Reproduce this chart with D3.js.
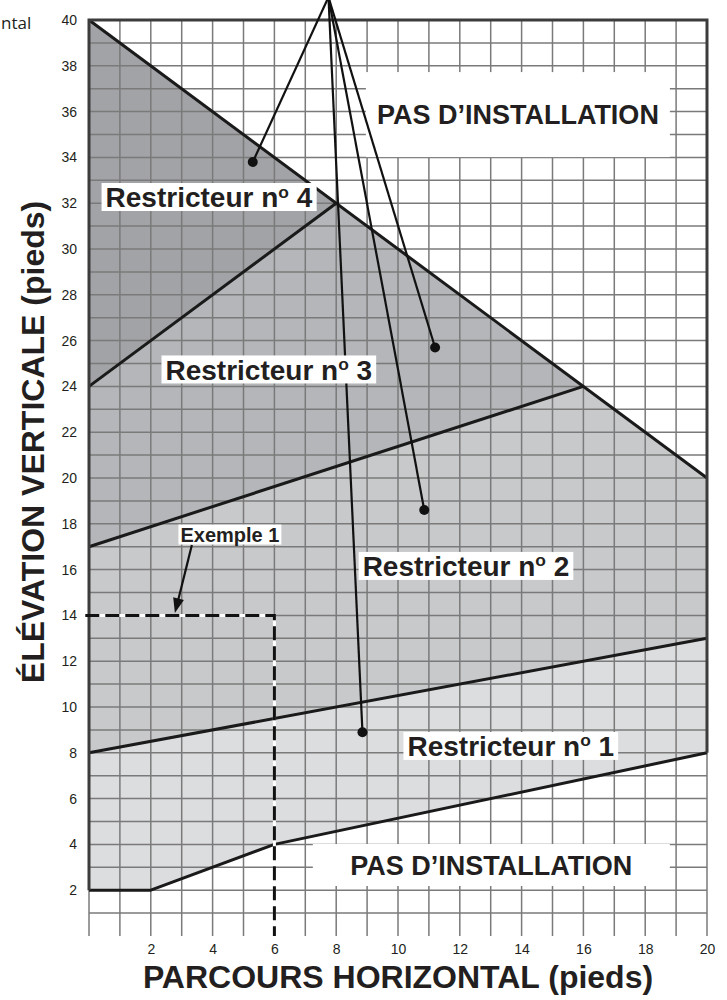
<!DOCTYPE html>
<html>
<head>
<meta charset="utf-8">
<script src="https://cdn.jsdelivr.net/npm/d3@7"></script>
<style>
  body { margin: 0; background: #fff; }
  svg { display: block; }
</style>
</head>
<body>
<svg width="727" height="1000"></svg>
<script>
// values (feet)
const xTicks = [2, 4, 6, 8, 10, 12, 14, 16, 18, 20];
const yTicks = [2, 4, 6, 8, 10, 12, 14, 16, 18, 20, 22, 24, 26, 28, 30, 32, 34, 36, 38, 40];

const zone4 = [[0, 40], [8, 32], [0, 24]];
const zone3 = [[0, 24], [8, 32], [16, 24], [0, 17]];
const zone2 = [[0, 17], [16, 24], [20, 20], [20, 13], [0, 8]];
const zone1 = [[0, 8], [20, 13], [20, 8], [6, 4], [2, 2], [0, 2]];

const limitTop = [[0, 40], [20, 20]];
const limit4 = [[0, 24], [8, 32]];
const limit3 = [[0, 17], [16, 24]];
const limit2 = [[0, 8], [20, 13]];
const limit1 = [[0, 2], [2, 2], [6, 4], [20, 8]];

const exampleRun = 6, exampleRise = 14;

const leaderApex = [7.75, 41];
const leaderDots = [[5.3, 33.8], [11.2, 25.7], [10.85, 18.6], [8.85, 8.9]];

const zoneNames = ["Restricteur n", "Restricteur n", "Restricteur n", "Restricteur n"];
const zoneNums = ["4", "3", "2", "1"];

let svg = d3.select("svg");

let x = d3.scaleLinear().domain([0, 20]).range([89, 707]);
let y = d3.scaleLinear().domain([0, 40]).range([936, 20]);

let line = d3.line().x(d => x(d[0])).y(d => y(d[1]));
const font = "Liberation Sans, Arial, sans-serif";

// shaded zones
let fills = ["#a2a3a6", "#b4b6b9", "#c8c9cb", "#dcdddf"];
[zone4, zone3, zone2, zone1].forEach((z, i) => {
  svg.append("path").attr("d", line(z) + "Z").attr("fill", fills[i]);
});

// grid, one line every foot
let grid = svg.append("g").attr("stroke", "#7a7a7a").attr("stroke-width", 1.5);
d3.range(0, 21).forEach(v => {
  grid.append("line")
    .attr("x1", x(v)).attr("x2", x(v))
    .attr("y1", y(40)).attr("y2", y(0));
});
d3.range(1, 41).forEach(v => {
  grid.append("line")
    .attr("x1", x(0)).attr("x2", x(20))
    .attr("y1", y(v)).attr("y2", y(v));
});

// white blocks for the "no install" labels
function block(cx, cy, w, h) {
  svg.append("rect")
    .attr("x", x(cx) - w / 2).attr("y", y(cy) - h / 2)
    .attr("width", w).attr("height", h)
    .attr("fill", "#fff");
}
block(13.88, 35.87, 304, 85);
block(13.02, 3.1, 357, 42);

// zone limits
[limitTop, limit4, limit3, limit2, limit1].forEach(l => {
  svg.append("path").attr("d", line(l))
    .attr("fill", "none").attr("stroke", "#1a1a1a")
    .attr("stroke-width", 3).attr("stroke-linejoin", "round");
});

// frame
svg.append("path").attr("d", line([[0, 2], [0, 40], [20, 40], [20, 8]]))
  .attr("stroke", "#3c3c3c").attr("stroke-width", 3).attr("fill", "none");

// exemple 1
let ex = [[-0.12, exampleRise], [exampleRun, exampleRise], [exampleRun, 0]];
svg.append("path").attr("d", line(ex))
  .attr("fill", "none").attr("stroke", "#fff").attr("stroke-width", 3);
svg.append("path").attr("d", line(ex))
  .attr("fill", "none").attr("stroke", "#111").attr("stroke-width", 3)
  .attr("stroke-dasharray", "14,6");

// leader lines
let leaders = svg.append("g");
leaderDots.forEach(d => {
  leaders.append("line")
    .attr("x1", x(leaderApex[0])).attr("y1", y(leaderApex[1]))
    .attr("x2", x(d[0])).attr("y2", y(d[1]))
    .attr("stroke", "#111").attr("stroke-width", 2.2);
  leaders.append("circle")
    .attr("cx", x(d[0])).attr("cy", y(d[1])).attr("r", 5)
    .attr("fill", "#111");
});

// labels on white
function label(txt, num, cx, cy, size) {
  let g = svg.append("g");
  let t = g.append("text")
    .attr("x", x(cx)).attr("y", y(cy))
    .attr("text-anchor", "middle").attr("dy", "0.36em")
    .attr("font-family", font)
    .attr("font-weight", "bold").attr("font-size", size)
    .attr("fill", "#231f20");
  t.append("tspan").text(txt);
  t.append("tspan").text("o").attr("font-size", size * 0.62).attr("dy", "-0.55em");
  t.append("tspan").text(" " + num).attr("dy", (size * 0.62 * 0.55) + "px");
  let b = t.node().getBBox();
  g.insert("rect", "text")
    .attr("x", b.x - 4).attr("y", y(cy) - 14)
    .attr("width", b.width + 8).attr("height", 28)
    .attr("fill", "#fff");
}
let spots = [[3.88, 32.27], [5.82, 24.74], [12.2, 16.16], [13.65, 8.3]];
zoneNames.forEach((n, i) => label(n, zoneNums[i], spots[i][0], spots[i][1], 28));

function plainLabel(txt, cx, cy, size) {
  svg.append("text")
    .attr("x", x(cx)).attr("y", y(cy))
    .attr("text-anchor", "middle").attr("dy", "0.36em")
    .attr("font-family", font)
    .attr("font-weight", "bold").attr("font-size", size)
    .attr("fill", "#231f20")
    .text(txt);
}
plainLabel("PAS D\u2019INSTALLATION", 13.88, 35.87, 27);
plainLabel("PAS D\u2019INSTALLATION", 13.02, 3.1, 27);

// exemple 1 label and arrow
let exLab = svg.append("g");
let exT = exLab.append("text")
  .attr("x", x(4.56)).attr("y", y(17.53))
  .attr("text-anchor", "middle").attr("dy", "0.36em")
  .attr("font-family", font)
  .attr("font-weight", "bold").attr("font-size", 20)
  .attr("fill", "#231f20").text("Exemple 1");
let eb = exT.node().getBBox();
exLab.insert("rect", "text")
  .attr("x", eb.x - 2).attr("y", y(17.53) - 10)
  .attr("width", eb.width + 4).attr("height", 20).attr("fill", "#fff");

let a0 = [x(3.33), y(17.07)], a1 = [x(2.78), y(14.1)];
let ang = Math.atan2(a1[1] - a0[1], a1[0] - a0[0]);
svg.append("line")
  .attr("x1", a0[0]).attr("y1", a0[1])
  .attr("x2", a1[0] - 12 * Math.cos(ang)).attr("y2", a1[1] - 12 * Math.sin(ang))
  .attr("stroke", "#111").attr("stroke-width", 2.2);
let hl = 15, hw = 5.5;
let bx = a1[0] - hl * Math.cos(ang), by = a1[1] - hl * Math.sin(ang);
svg.append("path")
  .attr("d", `M${a1[0]},${a1[1]}L${bx + hw * Math.sin(ang)},${by - hw * Math.cos(ang)}L${bx - hw * Math.sin(ang)},${by + hw * Math.cos(ang)}Z`)
  .attr("fill", "#111");

// axes (labels only)
let yAxis = svg.append("g")
  .attr("transform", "translate(" + x(0) + ",0)")
  .call(d3.axisLeft(y).tickValues(yTicks).tickSize(0).tickPadding(12));
let xAxis = svg.append("g")
  .attr("transform", "translate(0," + y(0) + ")")
  .call(d3.axisBottom(x).tickValues(xTicks).tickSize(0).tickPadding(8));
[yAxis, xAxis].forEach(a => {
  a.select(".domain").remove();
  a.selectAll("text")
    .attr("font-family", font)
    .attr("font-size", 14).attr("fill", "#231f20");
});

svg.append("text")
  .attr("x", 398).attr("y", 988)
  .attr("text-anchor", "middle")
  .attr("font-family", font)
  .attr("font-weight", "bold").attr("font-size", 32).attr("fill", "#231f20")
  .text("PARCOURS HORIZONTAL (pieds)");

svg.append("text")
  .attr("transform", "translate(44,442) rotate(-90)")
  .attr("text-anchor", "middle")
  .attr("font-family", font)
  .attr("font-weight", "bold").attr("font-size", 32).attr("fill", "#231f20")
  .text("ÉLÉVATION VERTICALE (pieds)");

// clipped word at the top left
svg.append("text")
  .attr("x", 1).attr("y", 29)
  .attr("font-family", "Open Sans, sans-serif")
  .attr("font-size", 17).attr("fill", "#231f20")
  .text("ntal");
</script>
</body>
</html>
